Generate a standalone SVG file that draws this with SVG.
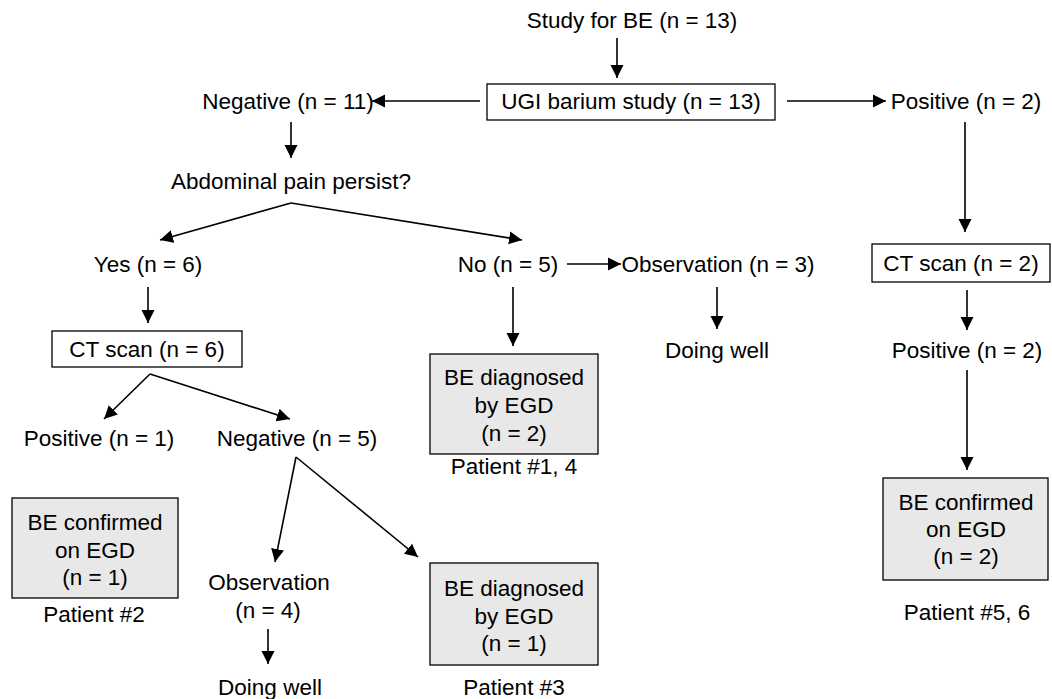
<svg xmlns="http://www.w3.org/2000/svg" width="1052" height="699" viewBox="0 0 1052 699">
<defs>
<marker id="ah" markerUnits="userSpaceOnUse" markerWidth="14" markerHeight="14" refX="13" refY="7" orient="auto">
<path d="M0,0.5 L13,7 L0,13.5 z" fill="#000"/>
</marker>
<style>
text{font-family:"Liberation Sans",Arial,sans-serif;font-size:22.5px;fill:#000;text-anchor:middle}
.box{fill:#fff;stroke:#000;stroke-width:1.3}
.gbox{fill:#e8e8e8;stroke:#000;stroke-width:1.3}
.c{stroke:#000;stroke-width:1.6;fill:none;marker-end:url(#ah)}
</style>
</defs>
<rect width="1052" height="699" fill="#fff"/>
<g id="connectors">
<line class="c" x1="617" y1="38" x2="617" y2="78"/>
<line class="c" x1="480" y1="101" x2="372" y2="101"/>
<line class="c" x1="787" y1="101" x2="886" y2="101"/>
<line class="c" x1="291" y1="122" x2="291" y2="158"/>
<line class="c" x1="291" y1="203" x2="160" y2="240"/>
<line class="c" x1="291" y1="203" x2="522" y2="240"/>
<line class="c" x1="567" y1="264" x2="621" y2="264"/>
<line class="c" x1="148" y1="287" x2="148" y2="323"/>
<line class="c" x1="513" y1="287" x2="513" y2="346"/>
<line class="c" x1="717" y1="287" x2="717" y2="329"/>
<line class="c" x1="965" y1="122" x2="965" y2="232"/>
<line class="c" x1="967" y1="290" x2="967" y2="330"/>
<line class="c" x1="967" y1="370" x2="967" y2="470"/>
<line class="c" x1="150" y1="374" x2="104" y2="419"/>
<line class="c" x1="150" y1="374" x2="290" y2="419"/>
<line class="c" x1="296" y1="457" x2="275" y2="562"/>
<line class="c" x1="296" y1="457" x2="418" y2="557"/>
<line class="c" x1="268" y1="629" x2="268" y2="664"/>
</g>
<g id="study"><text x="632" y="28">Study for BE (n = 13)</text></g>
<g id="ugi"><rect class="box" x="487" y="84" width="288" height="36"/><text x="631" y="109">UGI barium study (n = 13)</text></g>
<g id="neg11"><text x="288" y="109">Negative (n = 11)</text></g>
<g id="pos2"><text x="966" y="109">Positive (n = 2)</text></g>
<g id="abd"><text x="291" y="189">Abdominal pain persist?</text></g>
<g id="yes6"><text x="148" y="272">Yes (n = 6)</text></g>
<g id="no5"><text x="508" y="272">No (n = 5)</text></g>
<g id="obs3"><text x="718" y="272">Observation (n = 3)</text></g>
<g id="ct6"><rect class="box" x="52" y="331" width="190" height="36"/><text x="147" y="357">CT scan (n = 6)</text></g>
<g id="ct2"><rect class="box" x="872" y="244" width="178" height="38"/><text x="961" y="271">CT scan (n = 2)</text></g>
<g id="well1"><text x="717" y="358">Doing well</text></g>
<g id="pos2b"><text x="967" y="358">Positive (n = 2)</text></g>
<g id="bediag2"><rect class="gbox" x="430" y="354" width="168" height="100"/><text x="514" y="385">BE diagnosed</text><text x="514" y="413">by EGD</text><text x="514" y="441">(n = 2)</text></g>
<g id="pt14"><text x="514" y="474">Patient #1, 4</text></g>
<g id="pos1"><text x="99" y="446">Positive (n = 1)</text></g>
<g id="neg5"><text x="297" y="446">Negative (n = 5)</text></g>
<g id="beconf1"><rect class="gbox" x="12" y="498" width="166" height="100"/><text x="95" y="530">BE confirmed</text><text x="95" y="558">on EGD</text><text x="95" y="585">(n = 1)</text></g>
<g id="pt2"><text x="94" y="622">Patient #2</text></g>
<g id="beconf2"><rect class="gbox" x="883" y="478" width="165" height="102"/><text x="966" y="510">BE confirmed</text><text x="966" y="537">on EGD</text><text x="966" y="564">(n = 2)</text></g>
<g id="pt56"><text x="967" y="620">Patient #5, 6</text></g>
<g id="obs4"><text x="269" y="590">Observation</text><text x="268" y="618">(n = 4)</text></g>
<g id="well2"><text x="270" y="695">Doing well</text></g>
<g id="bediag1"><rect class="gbox" x="430" y="563" width="168" height="102"/><text x="514" y="596">BE diagnosed</text><text x="514" y="624">by EGD</text><text x="514" y="651">(n = 1)</text></g>
<g id="pt3"><text x="514" y="695">Patient #3</text></g>
</svg>
